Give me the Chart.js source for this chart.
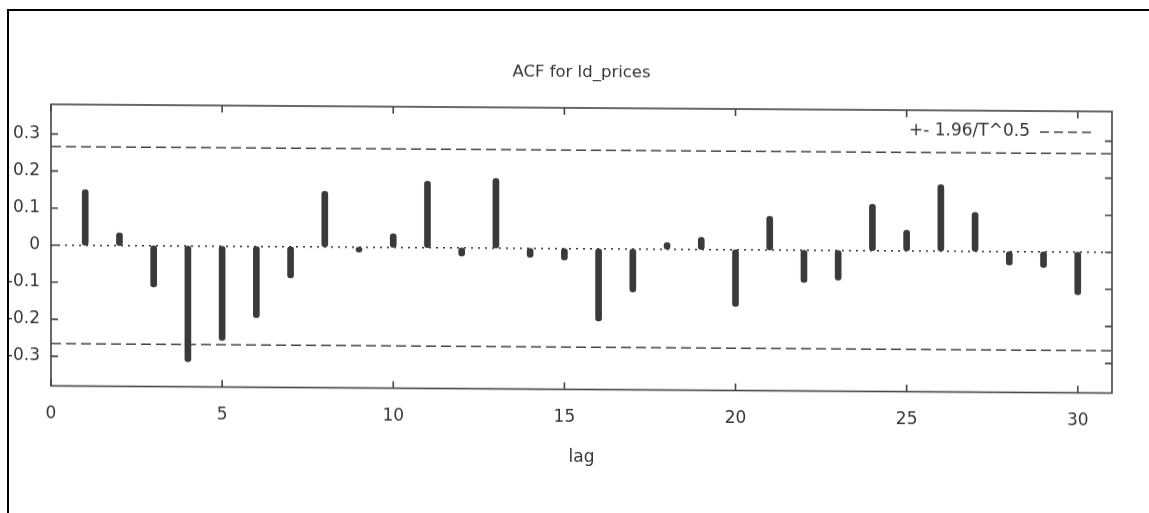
<!DOCTYPE html>
<html>
<head>
<meta charset="utf-8">
<script src="https://cdn.jsdelivr.net/npm/chart.js@4/dist/chart.umd.min.js"></script>
<style>
  html, body { margin: 0; padding: 0; background: #fff; width: 1149px; height: 513px; overflow: hidden; }
  #frame { position: absolute; left: 7px; top: 9px; width: 1142px; height: 504px;
           border-left: 2px solid #000; border-top: 2px solid #000; overflow: hidden; background: #fff; }
  #wrap { position: absolute; left: -9px; top: -11px; width: 1149px; height: 513px;
          transform-origin: 0 0; transform: skewY(0.39deg); }
</style>
</head>
<body>
<div id="frame"><div id="wrap"><canvas id="c" width="1149" height="513"></canvas></div></div>
<script>
// ---- data ----
const lags = [1,2,3,4,5,6,7,8,9,10,11,12,13,14,15,16,17,18,19,20,21,22,23,24,25,26,27,28,29,30];
const acfValues = [0.150, 0.034, -0.111, -0.312, -0.254, -0.192, -0.084, 0.150, -0.013, 0.037,
                   0.179, -0.022, 0.188, -0.024, -0.031, -0.195, -0.116, 0.018, 0.033, -0.153,
                   0.091, -0.087, -0.080, 0.125, 0.056, 0.179, 0.105, -0.036, -0.042, -0.115];
const confBand = 0.266;           // +- 1.96/T^0.5
const xTickValues = [0, 5, 10, 15, 20, 25, 30];
const yTickValues = [-0.3, -0.2, -0.1, 0, 0.1, 0.2, 0.3];
const xRange = [0, 31];
const yRange = [-0.38, 0.38];
const titleText = 'ACF for ld_prices';
const xTitle = 'lag';
const legendText = '+- 1.96/T^0.5';

const FONT = 'DejaVu Sans';
const INK = '#363636';

const barData = lags.map((l, i) => ({ x: l, y: acfValues[i] }));
const upper = [{ x: xRange[0], y: confBand }, { x: xRange[1], y: confBand }];
const lower = [{ x: xRange[0], y: -confBand }, { x: xRange[1], y: -confBand }];
const zero = [{ x: xRange[0], y: 0 }, { x: xRange[1], y: 0 }];

const near = (v, arr) => arr.some(t => Math.abs(t - v) < 1e-6);

const framePlugin = {
  id: 'gnuplotFrame',
  afterDatasetsDraw(chart) {
    const { ctx, chartArea: a, scales } = chart;
    ctx.save();
    ctx.strokeStyle = '#444';
    ctx.lineWidth = 1.6;
    ctx.setLineDash([]);
    ctx.strokeRect(a.left, a.top, a.right - a.left, a.bottom - a.top);
    const tl = 7;
    ctx.beginPath();
    scales.x.ticks.forEach(t => {
      const px = scales.x.getPixelForValue(t.value);
      ctx.moveTo(px, a.bottom); ctx.lineTo(px, a.bottom - tl);
      ctx.moveTo(px, a.top); ctx.lineTo(px, a.top + tl);
    });
    scales.y.ticks.forEach(t => {
      const py = scales.y.getPixelForValue(t.value);
      ctx.moveTo(a.left, py); ctx.lineTo(a.left + tl, py);
      ctx.moveTo(a.right, py); ctx.lineTo(a.right - tl, py);
    });
    ctx.stroke();
    // legend inside the plot, top right
    const ly = a.top + 21;
    ctx.fillStyle = INK;
    ctx.font = '17px "' + FONT + '"';
    ctx.textAlign = 'right';
    ctx.textBaseline = 'middle';
    ctx.fillText(legendText, a.right - 82, ly);
    ctx.beginPath();
    ctx.setLineDash([9, 5]);
    ctx.moveTo(a.right - 72, ly);
    ctx.lineTo(a.right - 20, ly);
    ctx.stroke();
    ctx.restore();
  }
};

new Chart(document.getElementById('c'), {
  type: 'bar',
  data: {
    datasets: [
      { type: 'bar', data: barData, backgroundColor: '#3a3a3a', barThickness: 6,
        borderRadius: 3, borderSkipped: false },
      { type: 'line', data: zero, borderColor: '#333', borderWidth: 1.7, borderDash: [2, 5],
        pointRadius: 0, fill: false },
      { type: 'line', data: upper, borderColor: '#444', borderWidth: 1.6, borderDash: [10, 5],
        pointRadius: 0, fill: false },
      { type: 'line', data: lower, borderColor: '#444', borderWidth: 1.6, borderDash: [10, 5],
        pointRadius: 0, fill: false }
    ]
  },
  options: {
    responsive: false,
    animation: false,
    devicePixelRatio: 1,
    layout: { padding: { left: 0, right: 37, top: 0, bottom: 0 } },
    plugins: {
      legend: { display: false },
      tooltip: { enabled: false },
      title: {
        display: true, text: titleText, fullSize: false, color: INK,
        font: { family: FONT, size: 16.5, weight: 'normal' },
        padding: { top: 59, bottom: 25.2 }
      }
    },
    scales: {
      x: {
        type: 'linear', min: xRange[0], max: xRange[1], offset: false,
        grid: { display: false, drawTicks: false }, border: { display: false },
        ticks: { stepSize: 5, padding: 18, color: INK, font: { family: FONT, size: 17 } },
        afterBuildTicks: s => { s.ticks = s.ticks.filter(t => near(t.value, xTickValues)); },
        afterFit: s => { s.height = 127.5; },
        title: { display: true, text: xTitle, color: INK, font: { family: FONT, size: 17 },
                 padding: { top: 0, bottom: 49 } }
      },
      y: {
        min: yRange[0], max: yRange[1],
        grid: { display: false, drawTicks: false }, border: { display: false },
        ticks: { stepSize: 0.1, padding: 11, color: INK, font: { family: FONT, size: 17 },
                 callback: v => Math.abs(v) < 1e-9 ? '0' : (Math.round(v * 10) / 10).toFixed(1) },
        afterBuildTicks: s => { s.ticks = s.ticks.filter(t => near(t.value, yTickValues)); },
        afterFit: s => { s.width = 51; }
      }
    }
  },
  plugins: [framePlugin]
});
</script>
</body>
</html>
